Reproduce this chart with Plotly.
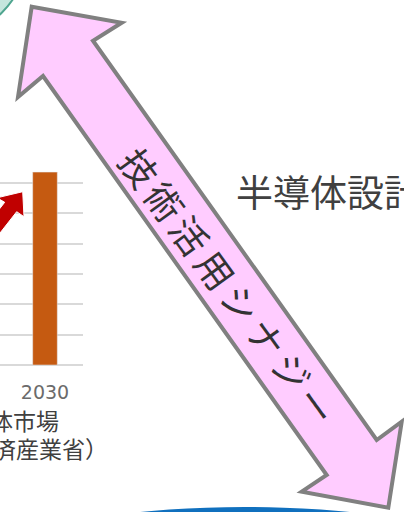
import plotly.graph_objects as go

W, H = 404, 512

# ---- data ----
years = ["2030"]
market_values = [15.9]
y_ticks = [0, 2.5, 5, 7.5, 10, 12.5, 15, 17.5]
synergy_chars = list("技術活用シナジー")
design_label = "半導体設計"
chart_caption_1 = "体市場"
chart_caption_2 = "済産業省）"

def px(x):
    return x / W

def py(y):
    return 1 - y / H

def path(points):
    return "M " + " L ".join(f"{px(x):.5f},{py(y):.5f}" for x, y in points) + " Z"

fig = go.Figure()
fig.add_trace(go.Bar(
    x=years, y=market_values, marker_color="#C55A11", width=0.324,
    showlegend=False, hoverinfo="skip",
))

fig.update_layout(
    width=W, height=H,
    margin=dict(l=0, r=0, t=0, b=0),
    paper_bgcolor="white", plot_bgcolor="white",
    xaxis=dict(
        domain=[0, 83 / W], range=[-0.592, 0.5], type="category",
        showgrid=False, zeroline=False, showline=False, ticks="",
        tickfont=dict(family="DejaVu Sans", size=19, color="#6b6b6b"),
        ticklabelstandoff=14,
    ),
    yaxis=dict(
        domain=[py(365), py(152.7)], range=[0, 17.5],
        tickvals=y_ticks, showticklabels=False,
        showgrid=True, gridcolor="#D9D9D9", gridwidth=1.5,
        zeroline=True, zerolinecolor="#D9D9D9", zerolinewidth=1.5,
        showline=False, ticks="",
    ),
)

shapes = []
# teal circle (top-left corner)
shapes.append(dict(type="circle", xref="paper", yref="paper",
                   x0=px(-148), x1=px(28), y0=py(38), y1=py(-138),
                   fillcolor="#C5E6DD", line=dict(color="#4FA58F", width=2), layer="above"))
# blue ellipse at bottom
shapes.append(dict(type="circle", xref="paper", yref="paper",
                   x0=px(47), x1=px(443), y0=py(573), y1=py(507),
                   fillcolor="#1070BE", line=dict(width=0), layer="above"))
# red arrow (partially visible)
red_pts = [(22.7, 191.7), (24, 216.7), (16.7, 211.7), (-8, 243.2),
           (-20, 233.8), (4.7, 202.3), (-3, 197.8)]
shapes.append(dict(type="path", xref="paper", yref="paper", path=path(red_pts),
                   fillcolor="#C00000", line=dict(color="white", width=1), layer="above"))
# pink double arrow
arrow_pts = [(31.7, 6.7), (121.7, 22.7), (93, 40.7), (376.7, 440), (401.7, 421.7),
             (388.3, 507.7), (301.7, 491.7), (326.7, 475), (43, 76), (18, 97)]
shapes.append(dict(type="path", xref="paper", yref="paper", path=path(arrow_pts),
                   fillcolor="#FFCCFF", line=dict(color="#808080", width=4), layer="above"))
fig.update_layout(shapes=shapes)

annotations = []
start = (140, 167)
step = (25.4, 34.0)
for i, ch in enumerate(synergy_chars):
    cx = start[0] + step[0] * i
    cy = start[1] + step[1] * i
    annotations.append(dict(
        x=px(cx), y=py(cy), xref="paper", yref="paper", text=ch, showarrow=False,
        textangle=54, xanchor="center", yanchor="middle",
        font=dict(family="Noto Sans CJK JP", size=37, color="#333333"),
    ))
annotations.append(dict(
    x=px(234), y=py(191), xref="paper", yref="paper", text=design_label, showarrow=False,
    xanchor="left", yanchor="middle",
    font=dict(family="Noto Sans CJK JP", size=37, color="#404040"),
))
annotations.append(dict(
    x=px(61), y=py(420), xref="paper", yref="paper", text=chart_caption_1, showarrow=False,
    xanchor="right", yanchor="middle",
    font=dict(family="Noto Sans CJK JP", size=23, color="#404040"),
))
annotations.append(dict(
    x=px(110), y=py(448), xref="paper", yref="paper", text=chart_caption_2, showarrow=False,
    xanchor="right", yanchor="middle",
    font=dict(family="Noto Sans CJK JP", size=23, color="#404040"),
))
fig.update_layout(annotations=annotations)

fig.write_html(
    "out.html",
    config={"displayModeBar": False},
    post_script="document.body.style.margin='0';document.body.style.overflow='hidden';",
)
